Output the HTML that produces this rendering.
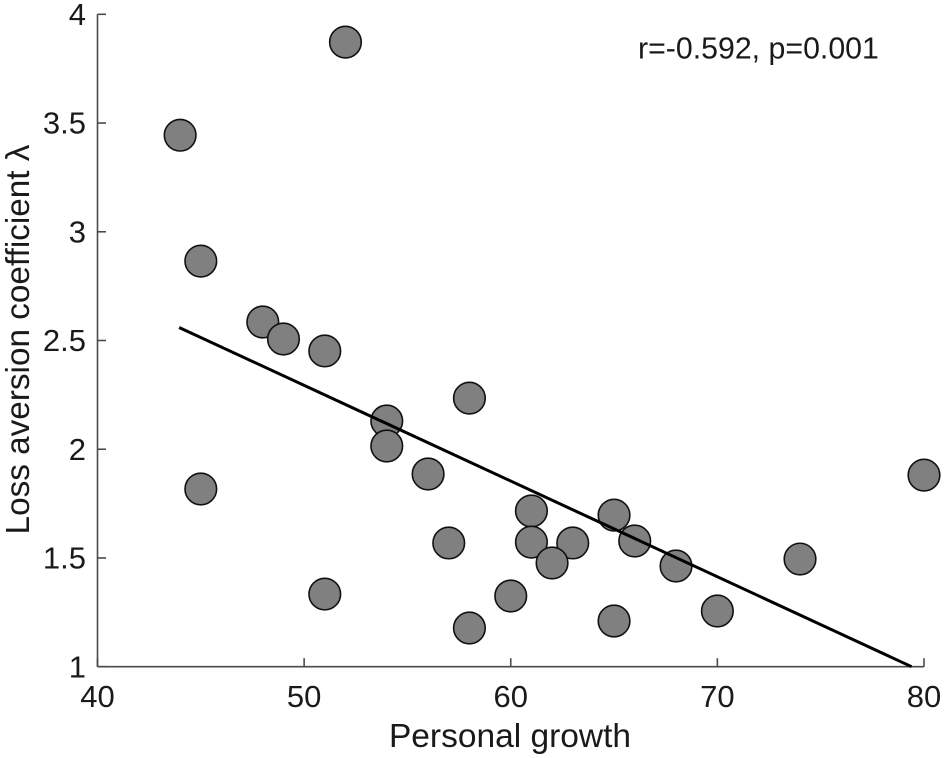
<!DOCTYPE html>
<html>
<head>
<meta charset="utf-8">
<title>Loss aversion vs personal growth</title>
<style>
html,body{margin:0;padding:0;background:#fff;}
svg{display:block;}
text{font-family:"Liberation Sans",sans-serif;fill:#1a1a1a;}
</style>
</head>
<body>
<svg id="chart" width="945" height="758" viewBox="0 0 945 758" xmlns="http://www.w3.org/2000/svg">
<g id="axes"></g>
<g id="points"></g>
<g id="fit"></g>
<text x="510" y="747" font-size="33.5" text-anchor="middle">Personal growth</text>
<text transform="translate(29,339.5) rotate(-90)" x="0" y="0" font-size="33.3" text-anchor="middle">Loss aversion coefficient λ</text>
<text x="638" y="58.5" font-size="30.3">r=-0.592, p=0.001</text>
</svg>
<script>
var xTicks = [40, 50, 60, 70, 80];
var yTicks = [1, 1.5, 2, 2.5, 3, 3.5, 4];
var yTickLabels = ['1', '1.5', '2', '2.5', '3', '3.5', '4'];
var growth = [52, 44, 45, 48, 49, 51, 58, 54, 54, 56, 45, 61, 65, 61, 57, 63, 66, 62, 68, 74, 80, 51, 60, 70, 65, 58];
var lambda = [3.872, 3.444, 2.865, 2.585, 2.507, 2.452, 2.235, 2.13, 2.015, 1.886, 1.817, 1.716, 1.697, 1.573, 1.569, 1.569, 1.578, 1.477, 1.463, 1.495, 1.881, 1.334, 1.325, 1.256, 1.21, 1.178];
var fitX = [43.95, 79.4];
var fitY = [2.56, 1];

var NS = 'http://www.w3.org/2000/svg';
function xScale(v) { return 97.5 + (v - 40) * (924 - 97.5) / 40; }
function yScale(v) { return 666.7 - (v - 1) * (666.7 - 14.3) / 3; }
function make(tag, attrs, parent) {
  var el = document.createElementNS(NS, tag);
  for (var k in attrs) el.setAttribute(k, attrs[k]);
  parent.appendChild(el);
  return el;
}
var axes = document.getElementById('axes');
var pts = document.getElementById('points');
var fit = document.getElementById('fit');
var axisStyle = { stroke: '#4a4a4a', 'stroke-width': 1.6, fill: 'none' };

var xAxis = make('line', { x1: xScale(40), x2: xScale(80), y1: yScale(1), y2: yScale(1), stroke: axisStyle.stroke, 'stroke-width': axisStyle['stroke-width'] }, axes);


var yAxis = make('line', { x1: xScale(40), x2: xScale(40), y1: yScale(1), y2: yScale(4), stroke: axisStyle.stroke, 'stroke-width': axisStyle['stroke-width'] }, axes);



xTicks.forEach(function (t) {
  var tick = make('line', { x1: xScale(t), x2: xScale(t), y1: yScale(1), y2: yScale(1) - 8.5, stroke: axisStyle.stroke, 'stroke-width': axisStyle['stroke-width'] }, axes);
  
  
  var label = make('text', { x: xScale(t), y: 707, 'font-size': 31, 'text-anchor': 'middle' }, axes);
  label.textContent = String(t);
  
  
});
yTicks.forEach(function (t, i) {
  var tick = make('line', { x1: xScale(40), x2: xScale(40) + 8.5, y1: yScale(t), y2: yScale(t), stroke: axisStyle.stroke, 'stroke-width': axisStyle['stroke-width'] }, axes);
  
  
  var label = make('text', { x: 86, y: yScale(t) + 10.7, 'font-size': 31, 'text-anchor': 'end' }, axes);
  label.textContent = yTickLabels[i];
  
  
});
growth.forEach(function (g, i) {
  var c = make('circle', { cx: xScale(g), cy: yScale(lambda[i]), r: 15.8, fill: '#808080', stroke: '#111', 'stroke-width': 1.6 }, pts);
  
  
});
var line = make('line', { x1: xScale(fitX[0]), y1: yScale(fitY[0]), x2: xScale(fitX[1]), y2: yScale(fitY[1]), stroke: '#000', 'stroke-width': 3 }, fit);


</script>
</body>
</html>
